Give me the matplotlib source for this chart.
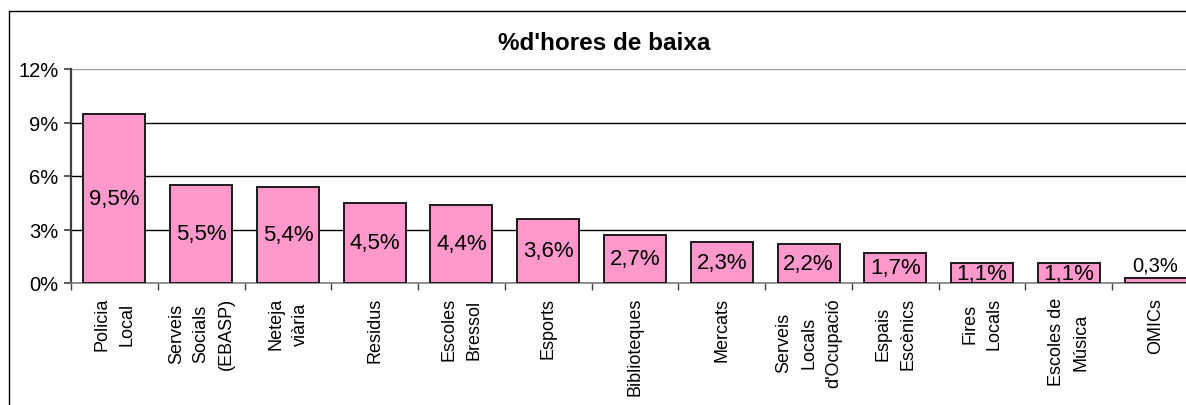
import matplotlib
matplotlib.use("Agg")
import matplotlib.pyplot as plt
from matplotlib.patches import Rectangle

plt.rcParams['font.family'] = ['Liberation Sans', 'DejaVu Sans']

title = "%d'hores de baixa"
categories = ["Policia\nLocal", "Serveis\nSocials\n(EBASP)", "Neteja\nviària", "Residus",
              "Escoles\nBressol", "Esports", "Biblioteques", "Mercats",
              "Serveis\nLocals\nd'Ocupació", "Espais\nEscènics", "Fires\nLocals",
              "Escoles de\nMúsica", "OMICs"]
values = [9.5, 5.5, 5.4, 4.5, 4.4, 3.6, 2.7, 2.3, 2.2, 1.7, 1.1, 1.1, 0.3]
value_labels = ["9,5%", "5,5%", "5,4%", "4,5%", "4,4%", "3,6%", "2,7%", "2,3%",
                "2,2%", "1,7%", "1,1%", "1,1%", "0,3%"]
yticks = [0, 3, 6, 9, 12]
ytick_labels = ["0%", "3%", "6%", "9%", "12%"]

W, H = 1186, 406
fig = plt.figure(figsize=(W / 100, H / 100), dpi=100)
fig.patch.set_facecolor('white')

# outer chart border (cropped at right/bottom)
fig.add_artist(Rectangle((9 / W, -0.1), 2.0, (H - 12) / H + 0.1, transform=fig.transFigure,
                         fill=False, edgecolor='black', linewidth=1.0))

left = 71 / W
width = 1128 / W
bottom = (H - 284) / H
height = (284 - 70) / H
ax = fig.add_axes([left, bottom, width, height])

x = list(range(len(values)))
ax.bar(x, values, width=0.714, color='#FF99CC', edgecolor='#1a1a1a', linewidth=1.4, zorder=3)

ax.set_xlim(-0.5, len(values) - 0.5)
ax.set_ylim(0, 12)

ax.set_yticks(yticks)
ax.set_yticklabels(ytick_labels, fontsize=14.5)
ax.tick_params(axis='y', direction='out', length=5, width=1.2, color='#404040', pad=4)

ax.set_xticks(x)
ax.set_xticklabels(categories, rotation=90, fontsize=13, va='top', ha='center',
                   multialignment='center', linespacing=1.6)
ax.tick_params(axis='x', which='major', length=0, pad=10)
ax.set_xticks([i - 0.5 for i in range(len(values) + 1)], minor=True)
ax.tick_params(axis='x', which='minor', direction='out', length=5, width=1.0, color='#404040')

ax.yaxis.grid(True, color='black', linewidth=1.0, zorder=0)
ax.set_axisbelow(True)
gl = ax.yaxis.get_gridlines()
gl[-1].set_color('#999999')

for s in ['top', 'right']:
    ax.spines[s].set_visible(False)
ax.spines['left'].set_color('#404040')
ax.spines['left'].set_linewidth(1.6)
ax.spines['bottom'].set_color('#808080')
ax.spines['bottom'].set_linewidth(1.2)

for xi, v, lab in zip(x, values, value_labels):
    if v < 0.8:
        ax.text(xi, v + 0.15, lab, ha='center', va='bottom', fontsize=14.5, zorder=4)
    else:
        ax.text(xi, v / 2, lab, ha='center', va='center', fontsize=16, zorder=4)

fig.text(604 / W, 1 - 43 / H, title, ha='center', va='center', fontsize=17.5, fontweight='bold')

fig.savefig('out.png', dpi=100)
